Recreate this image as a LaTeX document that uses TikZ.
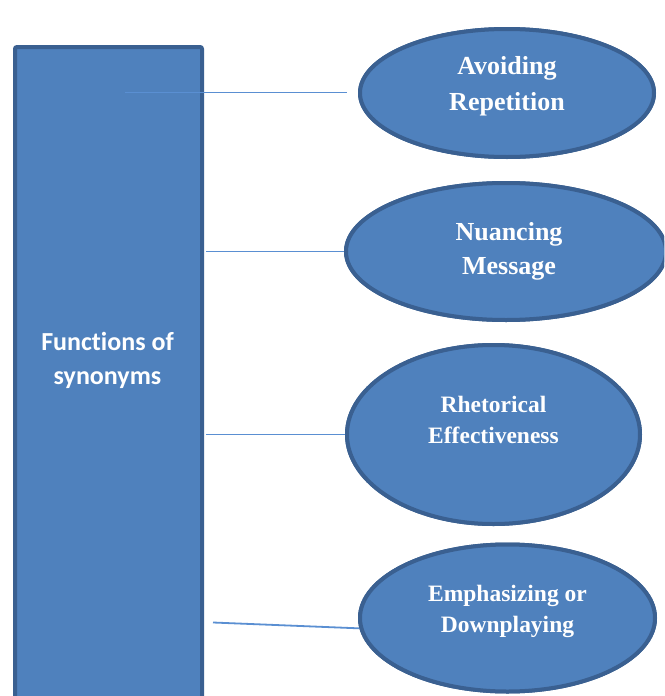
\documentclass[tikz,border=0pt]{standalone}
\usepackage{fontspec}
\setmainfont{Liberation Serif}
\newfontfamily\boxfont[Ligatures=NoCommon]{Carlito}
\usetikzlibrary{shapes.geometric}

\definecolor{shapefill}{HTML}{4F81BD}
\definecolor{shapeline}{HTML}{3A6091}
\definecolor{linkline}{HTML}{5A8FD2}

\tikzset{
  bubble/.style={ellipse, draw=shapeline, fill=shapefill, line width=4pt, inner sep=0pt},
  bubbletext/.style={text=white, align=center},
  link/.style={draw=linkline, line width=1.8pt}
}

\begin{document}
\begin{tikzpicture}[x=1pt,y=-1pt]
            \clip (0,0) rectangle (664,696);
            \fill[white] (0,0) rectangle (664,696);

            % Define main box
            \node[draw=shapeline, fill=shapefill, line width=4pt, rounded corners=2pt,
                  minimum width=187pt, minimum height=720pt, anchor=north west] (F) at (13,45) {};

            % Define functions
            \node[bubble, minimum width=294pt, minimum height=128pt] (E1) at (507,93) {};
            \node[bubble, minimum width=320pt, minimum height=137pt] (E2) at (506,251.5) {};
            \node[bubble, minimum width=293pt, minimum height=179pt] (E3) at (493.5,434.5) {};
            \node[bubble, minimum width=295pt, minimum height=147pt] (E4) at (507.5,618) {};

            % Free ends of connectors
            \coordinate (L1a) at (125,92.5);
            \coordinate (L1b) at (347,92.5);
            \coordinate (L4a) at (213,622.5);

            % Draw connectors
            \draw[link] (L1a) -- (L1b);
            \draw[link, shorten <=2pt] (F.east |- E2.west) -- (E2.west);
            \draw[link, shorten <=2pt] (F.east |- E3.west) -- (E3.west);
            \draw[link] (L4a) -- (E4.184);

            % Redraw functions over connector ends
            \node[bubble, minimum width=294pt, minimum height=128pt] at (E1) {};
            \node[bubble, minimum width=320pt, minimum height=137pt] at (E2) {};
            \node[bubble, minimum width=293pt, minimum height=179pt] at (E3) {};
            \node[bubble, minimum width=295pt, minimum height=147pt] at (E4) {};

            % Labels
            \node[bubbletext, font=\boxfont\bfseries\fontsize{26}{34}\selectfont] (Ft) at (107.5,360) {Functions of\\synonyms};
            \node[bubbletext, font=\bfseries\fontsize{26}{36}\selectfont] (T1) at ([yshift=7pt]E1) {Avoiding\\Repetition};
            \node[bubbletext, font=\bfseries\fontsize{26}{34}\selectfont] (T2) at ([xshift=3pt]E2) {Nuancing\\Message};
            \node[bubbletext, font=\bfseries\fontsize{23.5}{31}\selectfont] (T3) at ([yshift=15pt]E3) {Rhetorical\\Effectiveness};
            \node[bubbletext, font=\bfseries\fontsize{23.5}{31}\selectfont] (T4) at ([yshift=7pt]E4) {Emphasizing or\\Downplaying};
\end{tikzpicture}
\end{document}
